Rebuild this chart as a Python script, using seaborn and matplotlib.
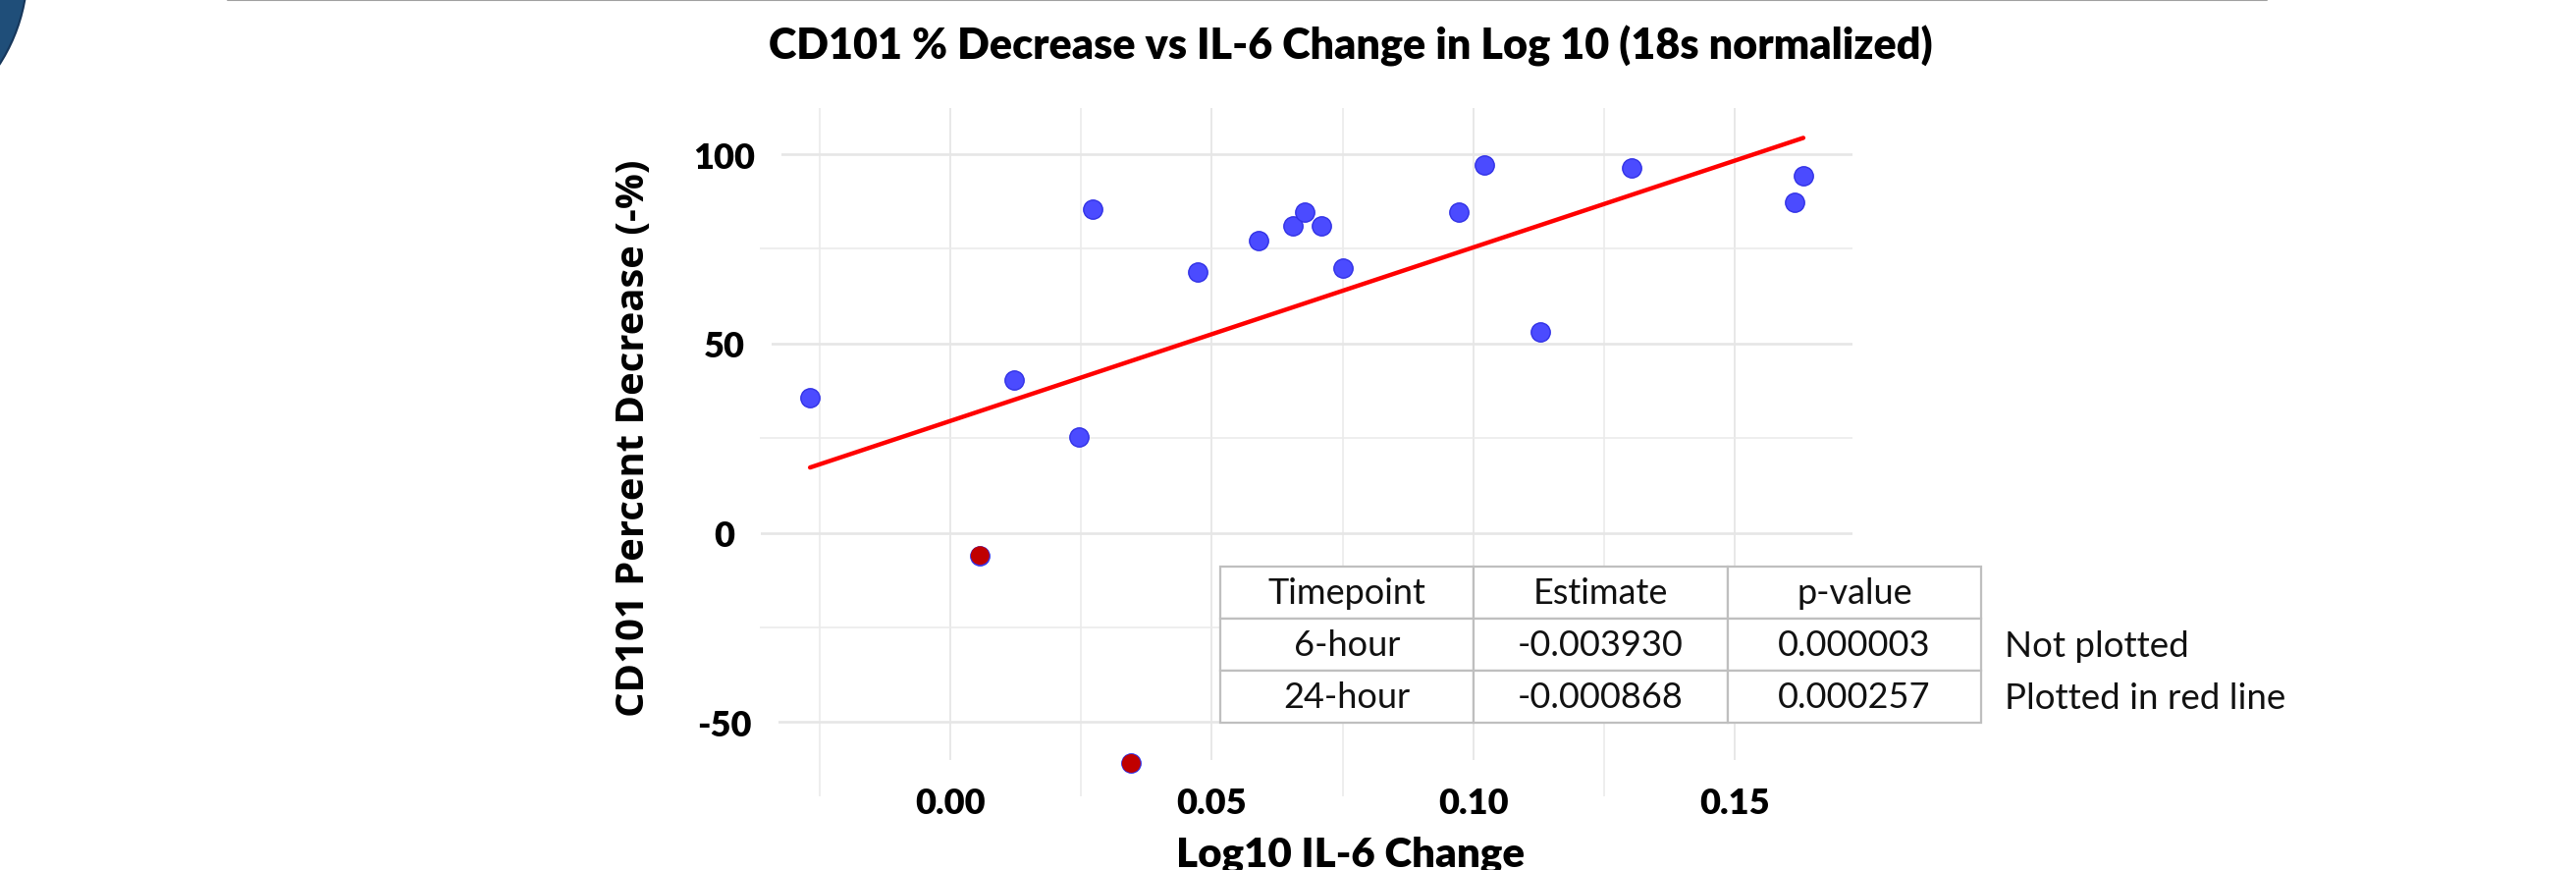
import numpy as np
import pandas as pd
import matplotlib
matplotlib.use("Agg")
import matplotlib.pyplot as plt
import seaborn as sns
from matplotlib.patches import Ellipse
from matplotlib.lines import Line2D

# ---------------- data ----------------
il6_log10_change = [-0.0268, 0.0057, 0.0122, 0.0246, 0.0272, 0.0346, 0.0473, 0.0589,
                    0.0655, 0.0677, 0.0710, 0.0750, 0.0973, 0.1022, 0.1129, 0.1302,
                    0.1614, 0.1631]
cd101_pct_decrease = [35.8, -6.0, 40.3, 25.4, 85.5, -60.9, 68.9, 77.1,
                      81.0, 84.6, 81.1, 69.9, 84.6, 97.1, 53.1, 96.3,
                      87.4, 94.4]
highlighted = [False, True, False, False, False, True, False, False,
               False, False, False, False, False, False, False, False,
               False, False]

x_major_ticks = [0.00, 0.05, 0.10, 0.15]
x_minor_ticks = [-0.025, 0.025, 0.075, 0.125]
y_major_ticks = [-50, 0, 50, 100]
y_minor_ticks = [-25, 25, 75]

table_columns = ["Timepoint", "Estimate", "p-value"]
timepoints = ["6-hour", "24-hour"]
estimates = [-0.003930, -0.000868]
p_values = [0.000003, 0.000257]
notes = ["Not plotted", "Plotted in red line"]

title = "CD101 % Decrease vs IL-6 Change in Log 10 (18s normalized)"
x_label = "Log10 IL-6 Change"
y_label = "CD101 Percent Decrease (-%)"

df = pd.DataFrame({"x": il6_log10_change, "y": cd101_pct_decrease, "hl": highlighted})

# ---------------- figure ----------------
W, H, DPI = 2624, 887, 100
sns.set_theme(style="white")
plt.rcParams["font.family"] = ["Lato", "DejaVu Sans"]
plt.rcParams["axes.unicode_minus"] = False
plt.rcParams["text.color"] = "black"

fig = plt.figure(figsize=(W / DPI, H / DPI), dpi=DPI)
fig.patch.set_facecolor("white")

# slide decorations
fig.add_artist(Ellipse((-150 / W, 1 + 30 / H), 2 * 178 / W, 2 * 178 / H,
                       transform=fig.transFigure, facecolor="#1F4E79",
                       edgecolor="#16365A", lw=1.5))
fig.add_artist(Line2D([232 / W, 2309 / W], [1 - 1.0 / H, 1 - 1.0 / H],
                      transform=fig.transFigure, color="#A0A0A0", lw=1.5))

ax = fig.add_axes([774 / W, 1 - 812 / H, (1887 - 774) / W, (812 - 111) / H])
ax.set_facecolor("white")
for s in ax.spines.values():
    s.set_visible(False)

sns.scatterplot(data=df, x="x", y="y", color="#4B4BFF", edgecolor="#3232E6",
                linewidth=1.0, s=195, ax=ax, zorder=3, legend=False)
sns.scatterplot(data=df[df["hl"]], x="x", y="y", color="#C00000", edgecolor="none",
                s=185, ax=ax, zorder=4, legend=False)
sns.regplot(data=df, x="x", y="y", scatter=False, ci=None, color="#FF0000",
            line_kws={"lw": 3.2, "zorder": 5}, ax=ax)

ax.set_xlim(-0.0364, 0.1725)
ax.set_ylim(-69.6, 112.2)
ax.set_xlabel("")
ax.set_ylabel("")

ax.set_xticks(x_major_ticks, labels=[f"{v:.2f}" for v in x_major_ticks])
ax.set_xticks(x_minor_ticks, minor=True)
ax.set_yticks(y_major_ticks, labels=[f"{v:d}" for v in y_major_ticks])
ax.set_yticks(y_minor_ticks, minor=True)
ax.tick_params(which="both", length=0, labelcolor="black")
ax.tick_params(axis="x", which="major", pad=-7, labelsize=26)
ax.tick_params(axis="y", which="major", pad=26, labelsize=26)

ax.xaxis.grid(True, which="major", color="#E6E6E6", lw=1.3)
ax.xaxis.grid(True, which="minor", color="#EBEBEB", lw=1.2)
ax.yaxis.grid(True, which="major", color="#E6E6E6", lw=1.9)
ax.yaxis.grid(True, which="minor", color="#EBEBEB", lw=1.2)
ax.set_axisbelow(True)

box = dict(boxstyle="square,pad=0.75", fc="white", ec="none")
for lbl in ax.get_xticklabels():
    lbl.set_fontweight("heavy")
    lbl.set_color("black")
    lbl.set_bbox(box)
for lbl in ax.get_yticklabels():
    lbl.set_fontweight("heavy")
    lbl.set_color("black")
    lbl.set_ha("center")
    lbl.set_bbox(box)

# texts
t_title = fig.text(1376 / W, 1 - 60 / H, title, ha="center", va="baseline",
                   fontweight="heavy", fontsize=26, color="black")
t_x = fig.text(1376 / W, 1 - 883 / H, x_label, ha="center", va="baseline",
               fontweight="heavy", fontsize=30, color="black")
t_y = fig.text(646 / W, 1 - 446.5 / H, y_label, ha="center", va="center",
               rotation=90, fontweight="bold", fontsize=29,
               family=["Open Sans", "DejaVu Sans"], color="black")

fig.canvas.draw()
r = fig.canvas.get_renderer()
def fit(t, target, use_height=False):
    bb = t.get_window_extent(r)
    cur = bb.height if use_height else bb.width
    t.set_fontsize(t.get_fontsize() * target / cur)
fit(t_title, 1185)
fit(t_x, 354)
fit(t_y, 567, use_height=True)

# table
tab_ax = fig.add_axes([1243 / W, 1 - 737 / H, (2018 - 1243) / W, (737 - 578) / H])
tab_ax.axis("off")
cell_text = [[tp, f"{e:.6f}", f"{p:.6f}"] for tp, e, p in zip(timepoints, estimates, p_values)]
tbl = tab_ax.table(cellText=cell_text, colLabels=table_columns, cellLoc="center",
                   bbox=[0, 0, 1, 1])
tbl.auto_set_font_size(False)
tbl.set_fontsize(26)
for cell in tbl.get_celld().values():
    cell.set_edgecolor("#BFBFBF")
    cell.set_linewidth(1.6)
    cell.set_facecolor("white")
    cell.get_text().set_color("#111111")

row_centers = [659, 711.5]
for note, yc in zip(notes, row_centers):
    fig.text(2042 / W, 1 - yc / H, note, ha="left", va="center",
             fontsize=26.5, color="#111111")

fig.savefig("out.png", dpi=DPI, facecolor="white")
